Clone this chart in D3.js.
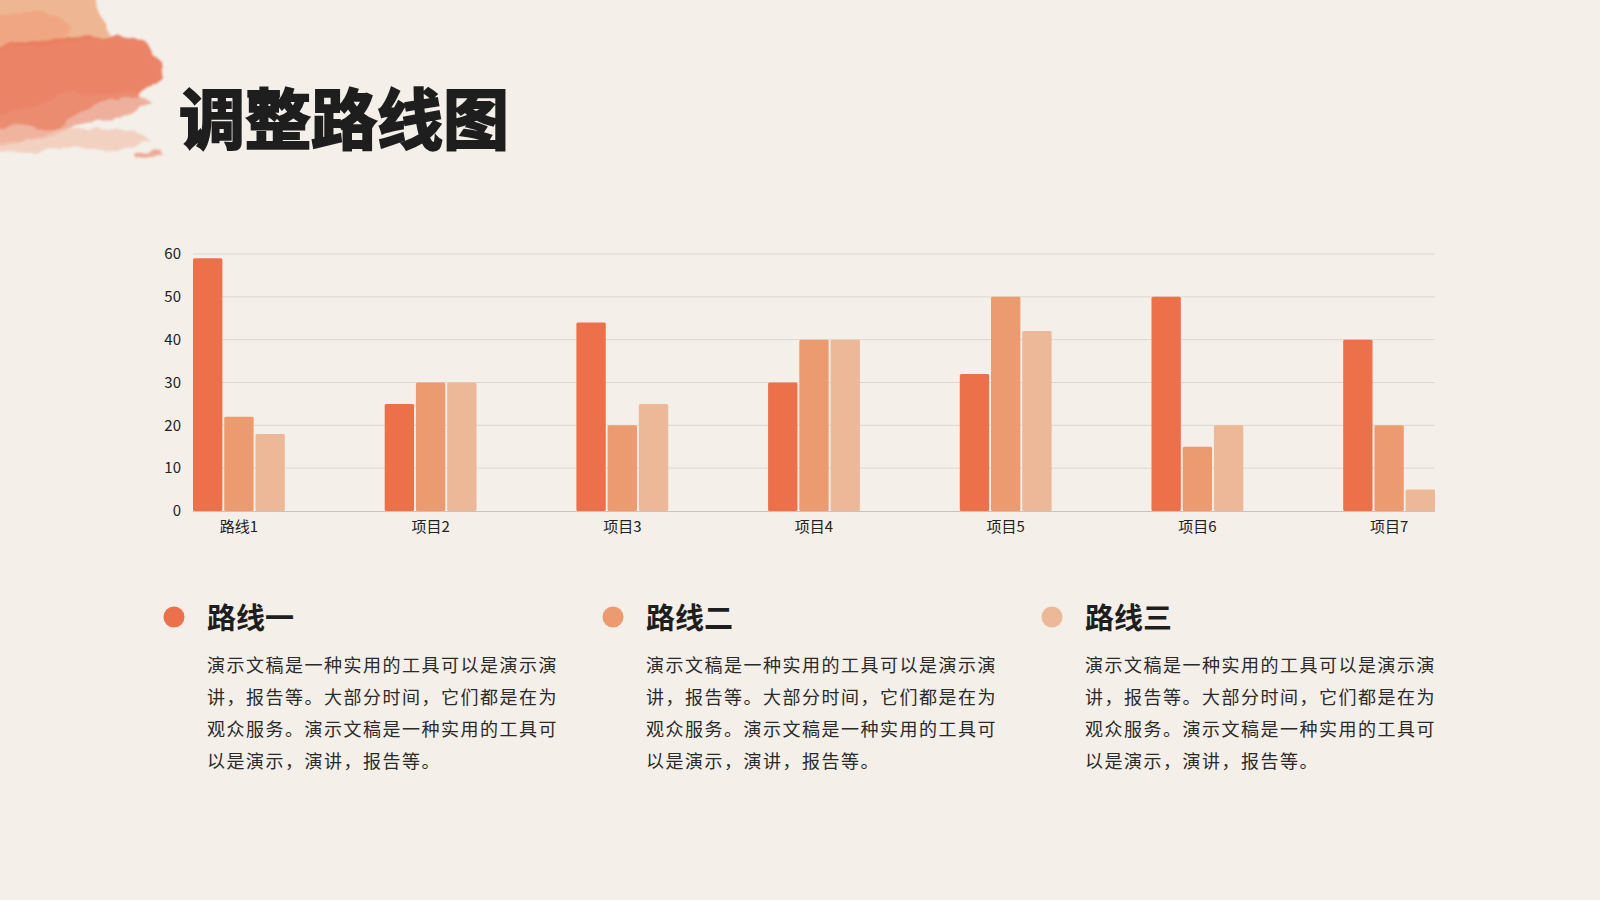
<!DOCTYPE html>
<html>
<head>
<meta charset="utf-8">
<script src="https://cdn.jsdelivr.net/npm/d3@7"></script>
<style>
  html, body { margin: 0; padding: 0; background: #f4efe9; }
  svg { display: block; }
  text { font-family: "Noto Sans CJK SC", "Noto Sans", sans-serif; }
</style>
</head>
<body>
<svg id="chart" width="1600" height="900"></svg>
<script>
  var categories = ["路线1", "项目2", "项目3", "项目4", "项目5", "项目6", "项目7"];
  var seriesNames = ["路线一", "路线二", "路线三"];
  var route1 = [59, 25, 44, 30, 32, 50, 40];
  var route2 = [22, 30, 20, 40, 50, 15, 20];
  var route3 = [18, 30, 25, 40, 42, 20, 5];
  var yTicks = [0, 10, 20, 30, 40, 50, 60];
  var colors = ["#ec714b", "#ec9a6f", "#ecb897"];
  var bodyLines = [
    "演示文稿是一种实用的工具可以是演示演",
    "讲，报告等。大部分时间，它们都是在为",
    "观众服务。演示文稿是一种实用的工具可",
    "以是演示，演讲，报告等。"
  ];

  var svg = d3.select("#chart");
  var defs = svg.append("defs");

  // watercolor splash in the corner
  var f = defs.append("filter").attr("id", "wash").attr("x", "-20%").attr("y", "-20%").attr("width", "140%").attr("height", "140%");
  f.append("feTurbulence").attr("type", "fractalNoise").attr("baseFrequency", "0.035").attr("numOctaves", 3).attr("seed", 4).attr("result", "noise");
  f.append("feDisplacementMap").attr("in", "SourceGraphic").attr("in2", "noise").attr("scale", 14).attr("xChannelSelector", "R").attr("yChannelSelector", "G").attr("result", "disp");
  f.append("feGaussianBlur").attr("in", "disp").attr("stdDeviation", 1.2);

  var splash = svg.append("g").attr("filter", "url(#wash)");
  splash.append("path").attr("fill", "#eeb08a").attr("opacity", 0.9)
    .attr("d", "M-10,-10 L95,-10 Q100,10 108,22 L110,36 L80,42 L40,44 L0,48 L-10,48 Z");
  splash.append("path").attr("fill", "#f0a37e").attr("opacity", 0.8)
    .attr("d", "M-10,20 Q20,8 45,14 L70,28 L60,42 L20,48 L-10,50 Z");
  splash.append("path").attr("fill", "#ea7b5c").attr("opacity", 0.92)
    .attr("d", "M-10,48 Q40,38 95,36 Q140,38 150,48 L160,62 L163,78 L150,82 L140,94 L110,100 L80,112 L60,128 L30,140 L-10,142 Z");
  splash.append("path").attr("fill", "#eb8f74").attr("opacity", 0.65)
    .attr("d", "M60,95 L140,90 L150,102 L120,118 L80,126 L40,138 L-10,148 L-10,120 Z");
  splash.append("path").attr("fill", "#f2c4b0").attr("opacity", 0.7)
    .attr("d", "M-10,130 L60,128 L120,130 L150,140 L120,148 L60,150 L-10,152 Z");
  splash.append("path").attr("fill", "#ec8f78").attr("opacity", 0.7)
    .attr("d", "M135,150 L158,149 L160,154 L136,155 Z");

  // title (heavy look: bold plus a stroke of the same colour)
  svg.append("text")
    .attr("x", 179).attr("y", 144)
    .attr("font-size", 66).attr("font-weight", 700)
    .attr("fill", "#1e1e1e").attr("stroke", "#1e1e1e").attr("stroke-width", 2.2)
    .attr("stroke-linejoin", "miter")
    .text("调整路线图");

  // chart
  var plotLeft = 193, plotRight = 1435, plotTop = 254, plotBottom = 511;
  var x = d3.scaleBand().domain(categories).range([plotLeft, plotRight]).paddingInner(0.521).paddingOuter(0);
  var x1 = d3.scaleBand().domain(d3.range(3)).range([0, x.bandwidth()]).paddingInner(0.06);
  var y = d3.scaleLinear().domain([0, 60]).range([plotBottom, plotTop]);

  var grid = svg.append("g");
  grid.selectAll("line").data(yTicks.filter(function (t) { return t > 0; })).join("line")
    .attr("x1", plotLeft).attr("x2", plotRight)
    .attr("y1", function (t) { return y(t); }).attr("y2", function (t) { return y(t); })
    .attr("stroke", "#dcd6d1").attr("stroke-width", 1);

  var yAxis = svg.append("g").attr("transform", "translate(" + plotLeft + ",0)")
    .call(d3.axisLeft(y).tickValues(yTicks).tickSize(0).tickPadding(12));
  yAxis.select(".domain").remove();
  yAxis.selectAll("text").attr("font-size", 15).attr("fill", "#222")
    .attr("font-family", "'Noto Sans CJK SC', sans-serif");

  var rows = categories.map(function (c, i) { return [route1[i], route2[i], route3[i]]; });

  var groups = svg.append("g").selectAll("g").data(rows).join("g")
    .attr("transform", function (d, i) { return "translate(" + x(categories[i]) + ",0)"; });
  groups.selectAll("rect").data(function (d) { return d; }).join("rect")
    .attr("x", function (d, j) { return x1(j); })
    .attr("y", function (d) { return y(d); })
    .attr("width", x1.bandwidth())
    .attr("height", function (d) { return plotBottom - y(d); })
    .attr("rx", 1.5)
    .attr("fill", function (d, j) { return colors[j]; });

  svg.append("line").attr("x1", plotLeft).attr("x2", plotRight).attr("y1", plotBottom + 0.5).attr("y2", plotBottom + 0.5)
    .attr("stroke", "#c9c3be").attr("stroke-width", 1.2);

  var xAxis = svg.append("g").attr("transform", "translate(0," + plotBottom + ")")
    .call(d3.axisBottom(x).tickSize(0).tickPadding(10));
  xAxis.select(".domain").remove();
  xAxis.selectAll("text").attr("font-size", 15).attr("fill", "#222")
    .attr("font-family", "'Noto Sans CJK SC', sans-serif");

  // legend blocks
  var colX = [174, 613, 1052];
  var blocks = svg.append("g").selectAll("g").data(seriesNames).join("g")
    .attr("transform", function (d, i) { return "translate(" + colX[i] + ",0)"; });
  blocks.append("circle").attr("cx", 0).attr("cy", 617).attr("r", 10.5)
    .attr("fill", function (d, i) { return colors[i]; });
  blocks.append("text").attr("x", 33).attr("y", 629)
    .attr("font-size", 29).attr("font-weight", 700).attr("fill", "#1e1e1e")
    .text(function (d) { return d; });
  blocks.each(function () {
    var g = d3.select(this);
    bodyLines.forEach(function (line, k) {
      g.append("text").attr("x", 33).attr("y", 672 + k * 32)
        .attr("font-size", 18).attr("letter-spacing", 1.5).attr("fill", "#2a2a2a")
        .text(line);
    });
  });
</script>
</body>
</html>
